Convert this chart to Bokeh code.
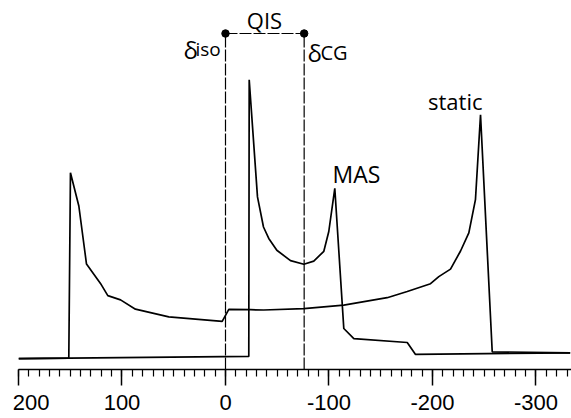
from bokeh.plotting import figure
from bokeh.models import Range1d, FixedTicker, Label
from bokeh.embed import file_html
from bokeh.resources import INLINE

# ---- data (chemical shift in ppm, intensity in a.u.) ----
static_ppm = [200, 151.4, 149.8, 141.7, 134.3, 120.8, 113.7, 101.4, 87.0, 54.8, 3.2,
              -3.2, -24.2, -36.9, -75.7, -114.3, -156.2, -175.6, -198.1, -206.1,
              -217.4, -227.1, -235.1, -241.5, -246.4, -257.7, -333]
static_int = [10.9, 11.4, 196.7, 163.5, 105.4, 86.1, 73.9, 69.6, 60.3, 52.6, 48.1,
              60.2, 59.8, 59.5, 60.9, 64.4, 71.8, 78.0, 85.8, 92.9,
              100.4, 118.5, 136.7, 169.8, 254.7, 17.7, 16.7]

mas_ppm = [200, -22.5, -22.9, -30.9, -36.7, -41.8, -49.6, -62.8, -75.7, -85.3, -95.0,
           -99.8, -105.6, -114.3, -124.0, -175.6, -183.6, -333]
mas_int = [10.9, 13.1, 289.8, 172.6, 142.5, 131.1, 119.2, 108.9, 105.3, 108.4, 118.2,
           138.0, 181.2, 41.0, 30.8, 27.0, 15.1, 16.7]

delta_iso = 0.0
delta_cg = -76.0
qis_level = 336.0

tick_values = [200, 100, 0, -100, -200, -300]
tick_labels = ["200", "100", "0", "-100", "-200", "-300"]
minor_tick_values = list(range(-330, 201, 10))

# ---- figure ----
p = figure(width=571, height=418, output_backend="svg", toolbar_location=None,
           x_range=Range1d(200, -334.3), y_range=Range1d(0, 369),
           min_border_left=18, min_border_right=0, min_border_top=0,
           min_border_bottom=49, y_axis_location=None)
p.outline_line_color = None
p.grid.visible = False

ax = p.xaxis[0]
ax.ticker = FixedTicker(ticks=tick_values, minor_ticks=minor_tick_values)
overrides = {float(v): l for v, l in zip(tick_values, tick_labels)}
# first label sits to the right of its tick (as in the reference): pad with a figure space
overrides[float(tick_values[0])] = "\u2007" + tick_labels[0]
ax.major_label_overrides = overrides
ax.axis_line_width = 1.5
ax.axis_line_color = "black"
ax.major_tick_in = 0
ax.major_tick_out = 16
ax.minor_tick_in = 0
ax.minor_tick_out = 7
ax.major_tick_line_width = 1.5
ax.minor_tick_line_width = 1.2
ax.major_tick_line_color = "black"
ax.minor_tick_line_color = "black"
ax.major_label_text_font = "Liberation Sans"
ax.major_label_text_font_size = "22px"
ax.major_label_text_color = "black"
ax.major_label_standoff = 4

# spectra
p.line(static_ppm, static_int, line_width=1.7, color="black")
p.line(mas_ppm, mas_int, line_width=1.7, color="black")

# delta markers and QIS bracket
p.segment(x0=[delta_iso, delta_cg], y0=[0, 0], x1=[delta_iso, delta_cg],
          y1=[qis_level, qis_level], line_width=1.2, color="black", line_dash="12 2")
p.segment(x0=[delta_iso], y0=[qis_level], x1=[delta_cg], y1=[qis_level],
          line_width=1.1, color="black", line_dash="12 2")
p.scatter([delta_iso, delta_cg], [qis_level, qis_level], size=7.5, color="black")

font = "Open Sans"
def lab(x, y, t, size, align="left"):
    p.add_layout(Label(x=x, y=y, text=t, text_align=align, text_baseline="alphabetic",
                       text_font=font, text_font_size=size, text_color="black"))

lab(-37.7, 349.5, "QIS", "22px", "center")
lab(40.6, 320.5, "\u03b4", "24px")
lab(29.0, 320.5, "iso", "19px")
lab(-79.2, 317.0, "\u03b4", "24px")
lab(-91.8, 317.0, "CG", "20px")
lab(-126.6, 195.5, "MAS", "23px", "center")
lab(-222.0, 268.5, "static", "22px", "center")

open("out.html", "w").write(file_html(p, INLINE))
